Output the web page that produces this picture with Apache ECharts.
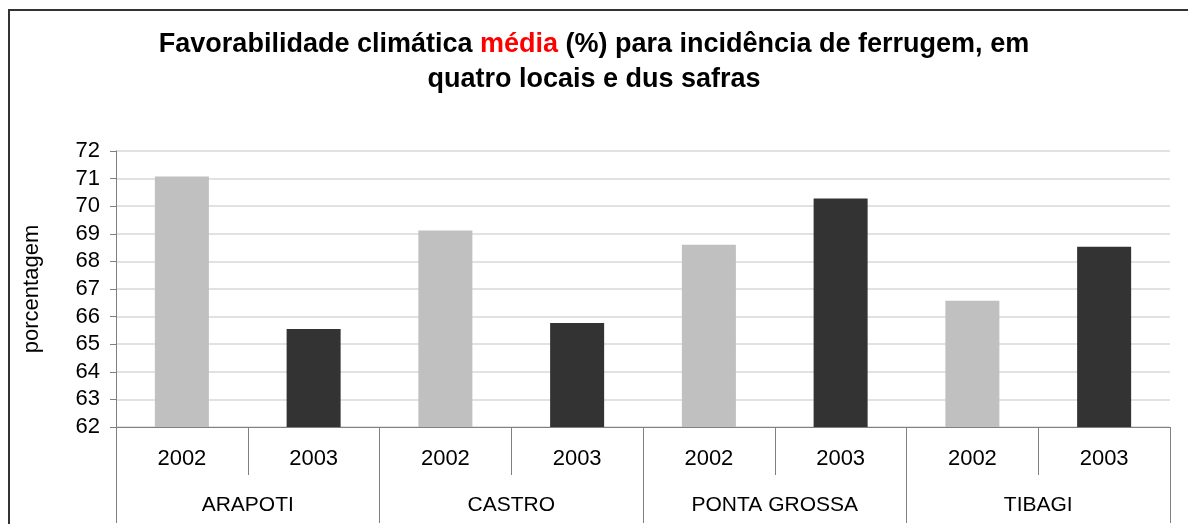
<!DOCTYPE html>
<html>
<head>
<meta charset="utf-8">
<script src="https://cdn.jsdelivr.net/npm/echarts@6/dist/echarts.min.js"></script>
<style>
  html, body { margin: 0; padding: 0; background: #fff; }
  #main { width: 1188px; height: 524px; }
</style>
</head>
<body>
<div id="main"></div>
<script>
const locais = ['ARAPOTI', 'CASTRO', 'PONTA GROSSA', 'TIBAGI'];
const safras = ['2002', '2003'];
const v2002 = [71.08, 69.12, 68.6, 66.57];
const v2003 = [65.55, 65.77, 70.28, 68.53];
const yTicks = { min: 62, max: 72, interval: 1 };
const corSafra = ['#c0c0c0', '#333333'];

// categorias de 1o nível (ano) e dados intercalados
const anos = [];
const dados = [];
locais.forEach((l, i) => {
  [v2002[i], v2003[i]].forEach((v, j) => {
    anos.push(safras[j]);
    dados.push({ value: v, itemStyle: { color: corSafra[j] } });
  });
});

const fonte = 'Liberation Sans, Arial, sans-serif';
const chart = echarts.init(document.getElementById('main'));

chart.setOption({
  animation: false,
  title: {
    left: 'center',
    top: 22,
    text: '{a|Favorabilidade climática }{r|média}{a| (%) para incidência de ferrugem, em}\n{a|quatro locais e dus safras}',
    textStyle: {
      rich: {
        a: { fontFamily: fonte, fontSize: 27, fontWeight: 'bold', color: '#000', lineHeight: 35 },
        r: { fontFamily: fonte, fontSize: 27, fontWeight: 'bold', color: '#ff0000', lineHeight: 35 }
      }
    }
  },
  graphic: [{
    type: 'rect',
    shape: { x: 9, y: 10, width: 1300, height: 700 },
    style: { fill: 'none', stroke: '#333', lineWidth: 2 },
    silent: true
  }],
  grid: { left: 116, right: 18, top: 151, bottom: 97 },
  xAxis: [
    {
      type: 'category',
      data: anos,
      position: 'bottom',
      axisLine: { lineStyle: { color: '#808080', width: 1 } },
      axisTick: { show: true, interval: 0, length: 48, lineStyle: { color: '#808080' } },
      axisLabel: { interval: 0, color: '#000', fontFamily: fonte, fontSize: 22, margin: 21 }
    },
    {
      type: 'category',
      data: locais,
      position: 'bottom',
      axisLine: { show: false },
      axisTick: { show: true, interval: 0, length: 96, lineStyle: { color: '#808080' } },
      axisLabel: { interval: 0, color: '#000', fontFamily: fonte, fontSize: 21, margin: 68 }
    }
  ],
  yAxis: {
    type: 'value',
    min: yTicks.min,
    max: yTicks.max,
    interval: yTicks.interval,
    name: 'porcentagem',
    nameLocation: 'middle',
    nameGap: 73,
    nameTextStyle: { color: '#000', fontFamily: fonte, fontSize: 22 },
    axisLine: { show: true, lineStyle: { color: '#808080' } },
    axisTick: { show: true, length: 6, lineStyle: { color: '#808080' } },
    axisLabel: { color: '#000', fontFamily: fonte, fontSize: 22, margin: 16 },
    splitLine: { lineStyle: { color: '#d9d9d9', width: 1.5 } }
  },
  series: [{
    type: 'bar',
    xAxisIndex: 0,
    barWidth: '41%',
    data: dados
  }]
});
</script>
</body>
</html>
